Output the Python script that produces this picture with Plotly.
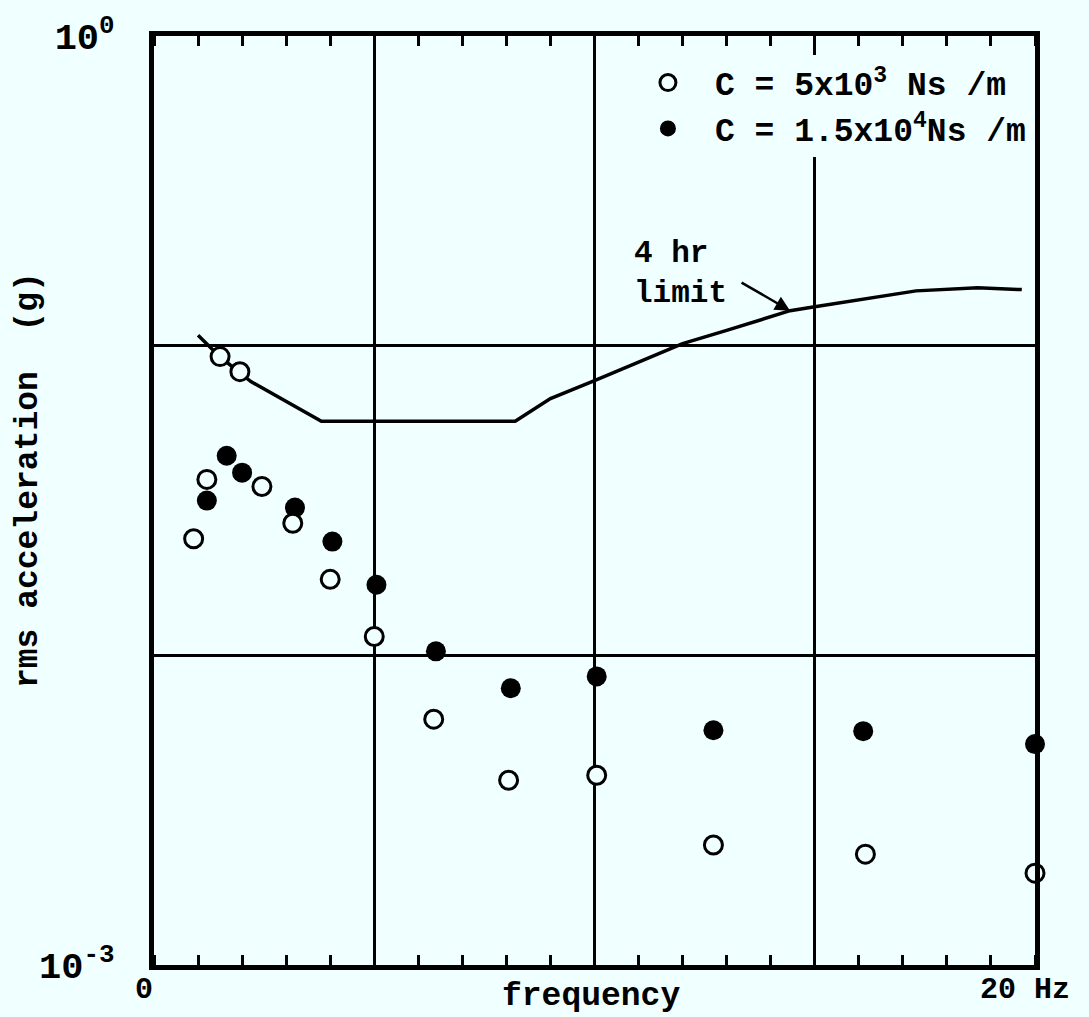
import math
import plotly.graph_objects as go

# Measured rms vertical acceleration vs excitation frequency, two damper settings
freq_c5e3 = [0.9, 1.2, 1.5, 1.95, 2.45, 3.15, 4.0, 5.0, 6.35, 8.05, 10.05, 12.7, 16.15, 20.0]
acc_c5e3 = [0.0238, 0.0370, 0.0922, 0.0824, 0.0351, 0.0267, 0.0176, 0.0115,
            0.00622, 0.00395, 0.0041, 0.00244, 0.00228, 0.00198]

freq_c15e3 = [1.2, 1.65, 2.0, 3.2, 4.05, 5.05, 6.4, 8.1, 10.05, 12.7, 16.1, 20.0]
acc_c15e3 = [0.0316, 0.0441, 0.0389, 0.0300, 0.0233, 0.0169, 0.0103,
             0.00783, 0.00855, 0.00573, 0.00569, 0.00517]

# 4 hour exposure limit curve
limit_freq = [1.0, 1.5, 2.2, 3.8, 8.2, 9.0, 10.0, 11.0, 12.0, 13.0, 14.44, 15.0, 16.0, 17.3, 18.7, 19.7]
limit_acc = [0.108, 0.092, 0.0766, 0.057, 0.057, 0.0675, 0.0771, 0.0885, 0.1015, 0.112,
             0.1297, 0.1336, 0.1406, 0.1503, 0.1537, 0.1517]

# arrow tip for the "4 hr limit" callout (a point on the limit curve)
callout_freq = 14.44
callout_acc = 0.1297
callout_label_freq = 10.85
callout_label_acc = 0.1706

x_tick_vals = [0, 5, 10, 15, 20]
x_tick_text = ["0", "", "", "", "20 Hz"]
y_tick_vals = [0.001, 0.01, 0.1, 1]
y_tick_text = ["10<sup>-3</sup>", "", "", "10<sup>0</sup>"]

BG = "#f0ffff"
INK = "#000000"
FONT = "Liberation Mono"

fig = go.Figure()

fig.add_trace(go.Scatter(
    x=limit_freq, y=limit_acc, mode="lines",
    line=dict(color=INK, width=3.5), showlegend=False, cliponaxis=False,
))
fig.add_trace(go.Scatter(
    x=freq_c15e3, y=acc_c15e3, mode="markers",
    name="C = 1.5x10<sup>4</sup>Ns /m",
    marker=dict(symbol="circle", size=20, color=INK, line=dict(width=0)),
    cliponaxis=False,
))
fig.add_trace(go.Scatter(
    x=freq_c5e3, y=acc_c5e3, mode="markers",
    name="C = 5x10<sup>3</sup> Ns /m",
    marker=dict(symbol="circle", size=18, color=BG, line=dict(color=INK, width=3)),
    cliponaxis=False,
))

fig.update_layout(
    width=1089, height=1017,
    margin=dict(l=154, r=54, t=36, b=52, autoexpand=False),
    paper_bgcolor=BG, plot_bgcolor=BG,
    font=dict(family=FONT, color=INK, size=30),
    legend=dict(
        x=0.53, y=0.98, xanchor="left", yanchor="top",
        bgcolor=BG, borderwidth=0, traceorder="reversed",
        font=dict(size=33, family=FONT, weight="bold"),
        itemwidth=84,
    ),
)

fig.update_xaxes(
    range=[0, 20], tickvals=x_tick_vals, ticktext=x_tick_text,
    showline=True, linecolor=INK, linewidth=5, mirror="ticks",
    showgrid=True, gridcolor=INK, gridwidth=2.5, zeroline=False,
    ticks="", ticklabelstandoff=-8, ticklabelshift=-10, automargin=False,
    tickfont=dict(size=30, family=FONT, weight="bold"),
    minor=dict(dtick=1, ticks="inside", ticklen=10, tickwidth=2.5, tickcolor=INK, showgrid=False),
)
fig.update_yaxes(
    type="log", range=[-3, 0], tickvals=y_tick_vals, ticktext=y_tick_text,
    showline=True, linecolor=INK, linewidth=5, mirror=True,
    showgrid=True, gridcolor=INK, gridwidth=2.5, zeroline=False,
    ticks="", ticklabelstandoff=27, automargin=False,
    tickfont=dict(size=37, family=FONT, weight="bold"),
)

# axis titles
fig.add_annotation(
    text="frequency", xref="paper", yref="paper", x=0.496, y=0,
    xanchor="center", yanchor="middle", yshift=-31, showarrow=False,
    font=dict(size=33, family=FONT, weight="bold"),
)
fig.add_annotation(
    text="rms acceleration  (g)", xref="paper", yref="paper", x=0, y=0.522,
    xanchor="center", yanchor="middle", xshift=-126, textangle=-90, showarrow=False,
    font=dict(size=33, family=FONT, weight="bold"),
)

# "4 hr limit" label with arrow pointing onto the curve (log axis -> log10 positions)
fig.add_annotation(
    text="4 hr<br>limit", xref="x", yref="y",
    x=callout_label_freq, y=math.log10(callout_label_acc),
    xanchor="left", yanchor="middle", align="left", showarrow=False,
    font=dict(size=31, family=FONT, weight="bold"),
)
fig.add_annotation(
    text="", xref="x", yref="y", x=callout_freq, y=math.log10(callout_acc),
    ax=-50, ay=-29, showarrow=True, arrowhead=2, arrowsize=1.2,
    arrowwidth=2.5, arrowcolor=INK,
)

fig.write_html("out.html")
